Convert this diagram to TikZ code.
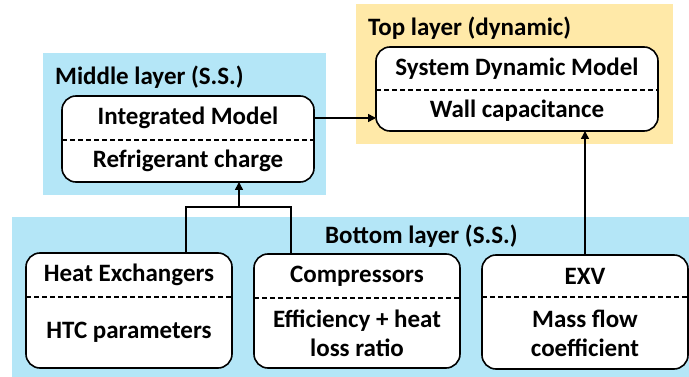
\documentclass[tikz,border=0pt]{standalone}
\usepackage{fontspec}
\setmainfont{Carlito}
\usetikzlibrary{positioning, arrows.meta, calc}
\definecolor{layerblue}{RGB}{180,230,247}
\definecolor{layeryellow}{RGB}{255,233,168}
\tikzset{
  layer/.style={inner sep=0pt, outer sep=0pt},
  layerlbl/.style={font=\fontsize{25}{29}\selectfont\bfseries, anchor=west, inner sep=0pt},
  model/.style={draw, line width=1.6pt, rounded corners=14pt, fill=white, inner sep=0pt, outer sep=0pt},
  title/.style={font=\fontsize{25}{29}\selectfont\bfseries, inner sep=0pt, outer sep=0pt, minimum height=44pt},
  param/.style={font=\fontsize{25}{29}\selectfont\bfseries, align=center, inner sep=0pt},
  split/.style={line width=1.2pt, dash pattern=on 5pt off 3pt},
  conn/.style={line width=1.5pt},
  arr/.style={conn, -{Triangle[length=8pt, width=8pt]}}
}

\begin{document}
\begin{tikzpicture}[x=1pt, y=-1pt]
\useasboundingbox (0,0) rectangle (689,377);
% layer backgrounds
\node[layer, fill=layeryellow, minimum width=317pt, minimum height=140pt] (toplayer) at (514.5,74) {};
\node[layer, fill=layerblue, minimum width=283pt, minimum height=142pt] (midlayer) at (184.5,124) {};
\node[layer, fill=layerblue, minimum width=680pt, minimum height=162pt] (botlayer) at (352,298) {};
\node[layerlbl] (toplbl) at (368,28) {Top layer (dynamic)};
\node[layerlbl] (midlbl) at (55,77) {Middle layer (S.S.)};
\node[layerlbl] (botlbl) at (325,236) {Bottom layer (S.S.)};

% middle layer
\node[model, minimum width=252pt, minimum height=86pt] (integ) at (188,139) {};
\node[title, below=0pt of integ.north] (integT) {Integrated Model};
\node[param] (integP) at ($(integT.south)!0.5!(integ.south)$) {Refrigerant charge};
\draw[split] (integT.south -| integ.west) -- (integT.south -| integ.east);

% top layer
\node[model, minimum width=282pt, minimum height=84pt] (sdm) at (517,89) {};
\node[title, below=0pt of sdm.north, minimum height=43pt] (sdmT) {System Dynamic Model};
\node[param] (sdmP) at ($(sdmT.south)!0.5!(sdm.south)$) {Wall capacitance};
\draw[split] (sdmT.south -| sdm.west) -- (sdmT.south -| sdm.east);

% bottom layer
\node[model, minimum width=206pt, minimum height=115pt] (hx) at (129,310.5) {};
\node[title, below=0pt of hx.north] (hxT) {Heat Exchangers};
\node[param] (hxP) at ($(hxT.south)!0.5!(hx.south)$) {HTC parameters};
\draw[split] (hxT.south -| hx.west) -- (hxT.south -| hx.east);

\node[model, minimum width=206pt, minimum height=114pt] (comp) at (357,311) {};
\node[title, below=0pt of comp.north] (compT) {Compressors};
\node[param] (compP) at ($(compT.south)!0.5!(comp.south)$) {Efficiency + heat\\loss ratio};
\draw[split] (compT.south -| comp.west) -- (compT.south -| comp.east);

\node[model, minimum width=206pt, minimum height=114pt] (exv) at (585,312) {};
\node[title, below=0pt of exv.north, minimum height=42pt] (exvT) {EXV};
\node[param] (exvP) at ($(exvT.south)!0.5!(exv.south)$) {Mass flow\\coefficient};
\draw[split] (exvT.south -| exv.west) -- (exvT.south -| exv.east);

% connectors
\coordinate (join) at (239,207);
\draw[conn] ([xshift=57pt]hx.north) |- (join) -| ([xshift=-66pt]comp.north);
\draw[arr] (join) -- (join |- integ.south);
\draw[arr] (integT -| integ.east) -- (integT -| sdm.west);
\draw[arr] (exv.north) -- (exv.north |- sdm.south);
\end{tikzpicture}
\end{document}
